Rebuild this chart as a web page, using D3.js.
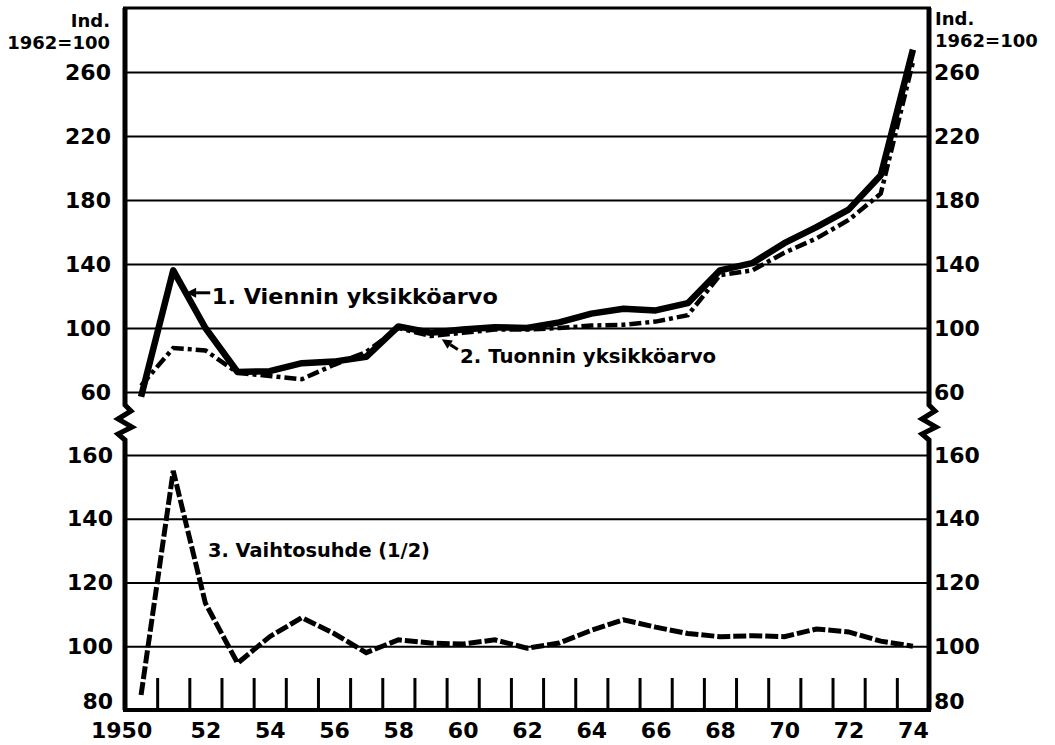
<!DOCTYPE html>
<html>
<head>
<meta charset="utf-8">
<script src="https://cdn.jsdelivr.net/npm/d3@7"></script>
<style>
  html, body { margin: 0; padding: 0; background: #fff; }
  svg { display: block; }
  text { font-family: "DejaVu Sans", "Liberation Sans", Arial, sans-serif; font-weight: bold; fill: #000; }
</style>
</head>
<body>
<svg id="chart" width="1055" height="745"></svg>
<script>
// ---- Data ----
const years = [1950,1951,1952,1953,1954,1955,1956,1957,1958,1959,1960,1961,1962,
               1963,1964,1965,1966,1967,1968,1969,1970,1971,1972,1973,1974];
// 1. Viennin yksikköarvo (export unit value), 1962=100
const exportUnitValue = [57,136,100,72.5,73,78,79,82,101,97,99,100.5,100,
                         103.5,109,112,111,115.5,136,140.5,153,163,174,195.5,274];
// 2. Tuonnin yksikköarvo (import unit value), 1962=100
const importUnitValue = [64,87.5,86,72,70,68,77,85,100,95,97,99,99,
                         100,101.5,102,104,108,133,136,147,156,167.5,184,266];
// 3. Vaihtosuhde (1/2) (terms of trade)
const termsOfTrade = [84.7,155,113.5,94.7,103,109,104,98,102,101,100.7,102,99.4,
                      101,105,108.3,106,104,103,103.3,103,105.4,104.5,101.6,100];

const upperTicks = [60,100,140,180,220,260];
const lowerTicks = [80,100,120,140,160];
const xLabelYears = [1950,1952,1954,1956,1958,1960,1962,1964,1966,1968,1970,1972,1974];
const xTickYears = years.slice(0, -1).map(y => y + 0.5);

// ---- Layout ----
const L = 125, R = 929, T = 8, B = 710;
const upperBottom = 392, lowerTop = 455;

const svg = d3.select("#chart");

const x = d3.scaleLinear().domain([1949.5, 1974.5]).range([L, R]);
const yTop = d3.scaleLinear().domain([60, 300]).range([upperBottom, T]);
const yBot = d3.scaleLinear().domain([80, 160]).range([B, lowerTop]);

// ---- Gridlines ----
function grid(g, axis) {
  g.call(axis);
  g.select(".domain").remove();
  g.selectAll(".tick line").attr("stroke", "#000").attr("stroke-width", 2);
  g.selectAll(".tick text").remove();
}
svg.append("g").attr("transform", `translate(${L},0)`)
  .call(g => grid(g, d3.axisLeft(yTop).tickValues(upperTicks).tickSize(-(R - L)).tickFormat("")));
svg.append("g").attr("transform", `translate(${L},0)`)
  .call(g => grid(g, d3.axisLeft(yBot).tickValues(lowerTicks.filter(v => v > 80)).tickSize(-(R - L)).tickFormat("")));

// ---- Year ticks (lower panel, from the bottom) ----
svg.append("g").attr("transform", `translate(0,${B})`)
  .call(d3.axisBottom(x).tickValues(xTickYears).tickSize(-32).tickFormat(""))
  .call(g => { g.select(".domain").remove();
               g.selectAll(".tick line").attr("stroke", "#000").attr("stroke-width", 3); });

// ---- Frame with break symbols ----
function sideWithBreak(xx) {
  return `M${xx},${T} L${xx},405 L${xx+6},411 L${xx-7},419 L${xx+7},427 L${xx-7},434 L${xx},440 L${xx},${B}`;
}
svg.append("path").attr("d", sideWithBreak(L)).attr("fill", "none").attr("stroke", "#000").attr("stroke-width", 5);
svg.append("path").attr("d", sideWithBreak(R)).attr("fill", "none").attr("stroke", "#000").attr("stroke-width", 5);
svg.append("line").attr("x1", L - 2).attr("x2", R + 2).attr("y1", T).attr("y2", T)
  .attr("stroke", "#000").attr("stroke-width", 3);
svg.append("line").attr("x1", L - 2).attr("x2", R + 2).attr("y1", B).attr("y2", B)
  .attr("stroke", "#000").attr("stroke-width", 4);

// ---- Y axis labels (both sides) ----
function labels(g) {
  g.select(".domain").remove();
  g.selectAll(".tick line").remove();
  g.selectAll(".tick text").style("font-size", "22px")
    .attr("dy", d => d === 80 ? "-0.05em" : "0.32em");
}
svg.append("g").attr("transform", `translate(${L},0)`)
  .call(d3.axisLeft(yTop).tickValues(upperTicks).tickSize(0).tickPadding(14)).call(labels);
svg.append("g").attr("transform", `translate(${L},0)`)
  .call(d3.axisLeft(yBot).tickValues(lowerTicks).tickSize(0).tickPadding(12)).call(labels);
svg.append("g").attr("transform", `translate(${R},0)`)
  .call(d3.axisRight(yTop).tickValues(upperTicks).tickSize(0).tickPadding(5)).call(labels);
svg.append("g").attr("transform", `translate(${R},0)`)
  .call(d3.axisRight(yBot).tickValues(lowerTicks).tickSize(0).tickPadding(5)).call(labels);

// ---- X axis labels ----
svg.append("g").attr("transform", `translate(0,${B})`)
  .call(d3.axisBottom(x).tickValues(xLabelYears).tickSize(0).tickPadding(12)
        .tickFormat(d => d === 1950 ? "1950" : String(d).slice(2)))
  .call(g => { g.select(".domain").remove();
               g.selectAll(".tick text").style("font-size", "22px")
                 .attr("dx", d => d === 1950 ? -20 : 0); });

// ---- Unit headers ----
svg.append("text").attr("x", 110).attr("y", 27).attr("text-anchor", "end").style("font-size", "18px").text("Ind.");
svg.append("text").attr("x", 110).attr("y", 49).attr("text-anchor", "end").style("font-size", "18px").text("1962=100");
svg.append("text").attr("x", 935).attr("y", 25).style("font-size", "18px").text("Ind.");
svg.append("text").attr("x", 935).attr("y", 47).style("font-size", "18px").text("1962=100");

// ---- Series ----
const lineTop = d3.line().x((d, i) => x(years[i])).y(d => yTop(d));
const lineBot = d3.line().x((d, i) => x(years[i])).y(d => yBot(d));

svg.append("path").datum(importUnitValue).attr("d", lineTop)
  .attr("fill", "none").attr("stroke", "#000").attr("stroke-width", 4.5)
  .attr("stroke-dasharray", "12,4,4,4");
svg.append("path").datum(exportUnitValue).attr("d", lineTop)
  .attr("fill", "none").attr("stroke", "#000").attr("stroke-width", 6.5)
  .attr("stroke-linejoin", "round");
svg.append("path").datum(termsOfTrade).attr("d", lineBot)
  .attr("fill", "none").attr("stroke", "#000").attr("stroke-width", 5)
  .attr("stroke-dasharray", "13,3");

// ---- Annotations ----
function arrow(x1, y1, x2, y2) { // from (x1,y1) tail to (x2,y2) tip
  const a = Math.atan2(y2 - y1, x2 - x1), h = 10, w = 5;
  const bx = x2 - h * Math.cos(a), by = y2 - h * Math.sin(a);
  svg.append("line").attr("x1", x1).attr("y1", y1).attr("x2", bx).attr("y2", by)
    .attr("stroke", "#000").attr("stroke-width", 3);
  svg.append("path").attr("d",
    `M${x2},${y2} L${bx + w * Math.sin(a)},${by - w * Math.cos(a)} L${bx - w * Math.sin(a)},${by + w * Math.cos(a)} Z`)
    .attr("fill", "#000");
}
arrow(x(1952.15), yTop(122), x(1951.4), yTop(122));
svg.append("text").attr("x", x(1952.2)).attr("y", yTop(115)).style("font-size", "21px")
  .attr("textLength", 286).attr("lengthAdjust", "spacingAndGlyphs")
  .text("1. Viennin yksikköarvo");

arrow(x(1959.85), yTop(86.5), x(1959.35), yTop(93));
svg.append("text").attr("x", x(1959.92)).attr("y", yTop(78)).style("font-size", "20px")
  .attr("textLength", 256).attr("lengthAdjust", "spacingAndGlyphs")
  .text("2. Tuonnin yksikköarvo");

svg.append("text").attr("x", x(1952.08)).attr("y", yBot(128)).style("font-size", "20px")
  .attr("textLength", 222).attr("lengthAdjust", "spacingAndGlyphs")
  .text("3. Vaihtosuhde (1/2)");
</script>
</body>
</html>
